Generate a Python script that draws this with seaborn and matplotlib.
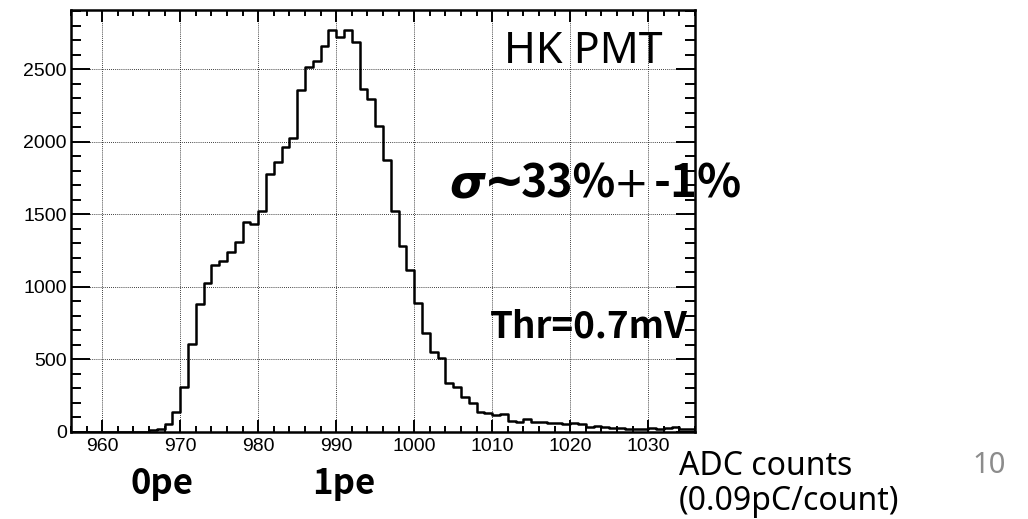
import numpy as np
import pandas as pd
import matplotlib
matplotlib.use("Agg")
import matplotlib.pyplot as plt
from matplotlib.ticker import MultipleLocator
import seaborn as sns

# ---- data ----
bin_low = list(range(956, 1036))
counts = [0, 0, 0, 0, 0, 0, 0, 3, 3, 3,
          14, 18, 55, 140, 310, 607, 885, 1025, 1150, 1180,
          1241, 1313, 1450, 1434, 1526, 1779, 1860, 1968, 2030, 2359,
          2515, 2561, 2660, 2772, 2722, 2772, 2692, 2368, 2299, 2113,
          1876, 1522, 1283, 1117, 892, 680, 554, 508, 340, 308,
          239, 202, 140, 129, 117, 124, 78, 67, 87, 67,
          71, 60, 62, 53, 62, 53, 37, 44, 37, 25,
          25, 20, 20, 20, 25, 20, 28, 32, 20, 20]
x_ticks = [960, 970, 980, 990, 1000, 1010, 1020, 1030]
y_ticks = [0, 500, 1000, 1500, 2000, 2500]

df = pd.DataFrame({"adc": np.array(bin_low) + 0.5, "n": counts})
edges = list(range(956, 1037))

sns.set_style("ticks")
plt.rcParams["font.family"] = ["Liberation Sans", "DejaVu Sans"]

fig = plt.figure(figsize=(10.28, 5.19), dpi=100)
ax = fig.add_axes([71 / 1028, 87 / 519, 624 / 1028, 422 / 519])

sns.histplot(data=df, x="adc", weights="n", bins=edges, element="step",
             fill=False, color="black", linewidth=1.8, ax=ax)

ax.set_xlim(956, 1036)
ax.set_ylim(0, 2910)
ax.set_xlabel("")
ax.set_ylabel("")
ax.set_xticks(x_ticks)
ax.set_yticks(y_ticks)
ax.xaxis.set_minor_locator(MultipleLocator(2))
ax.yaxis.set_minor_locator(MultipleLocator(100))
ax.grid(True, which="major", color="black", linestyle=(0, (1, 1.5)), linewidth=0.6)
ax.set_axisbelow(True)

for s in ax.spines.values():
    s.set_linewidth(1.8)
    s.set_color("black")

ax.tick_params(axis="both", which="both", direction="in", top=True, right=True,
               width=1.4, colors="black", labelsize=14)
ax.tick_params(axis="x", which="major", length=8.5, pad=4)
ax.tick_params(axis="x", which="minor", length=4.3)
ax.tick_params(axis="y", which="major", length=13.5, pad=3)
ax.tick_params(axis="y", which="minor", length=7)

cjk = ["Noto Sans CJK JP", "DejaVu Sans"]
latin = ["Noto Sans", "DejaVu Sans"]

def ft(px, py, s, **kw):
    fig.text(px / 1028, 1 - py / 519, s, va="baseline", **kw)

ft(504, 63, "HK PMT", fontsize=31, family=latin, color="black")

# sigma annotation, pieces placed to follow the reference spacing
ft(449, 197, "σ", fontsize=33, family=["DejaVu Sans"], fontweight="bold",
   style="italic", color="black")
ft(484, 197, "~", fontsize=35, family=["DejaVu Sans"], fontweight="bold", color="black")
ft(521, 197, "33%", fontsize=32, family=cjk, fontweight="bold", color="black")
ft(614, 197, "+", fontsize=30, family=["DejaVu Sans"], color="black")
ft(654, 197, "-1%", fontsize=33, family=cjk, fontweight="bold", color="black")

ft(490, 337, "Thr=0.7mV", fontsize=26.5, family=cjk, fontweight="bold", color="black")
ft(131, 494, "0pe", fontsize=25, family=cjk, fontweight="bold", color="black")
ft(312, 494, "1pe", fontsize=25, family=cjk, fontweight="bold", color="black")
ft(679, 475, "ADC counts", fontsize=23, family=latin, color="black")
ft(679, 510, "(0.09pC/count)", fontsize=23, family=latin, color="black")
ft(972, 473, "10", fontsize=21, family=latin, color="#8c8c8c")

fig.savefig("out.png", dpi=100)
